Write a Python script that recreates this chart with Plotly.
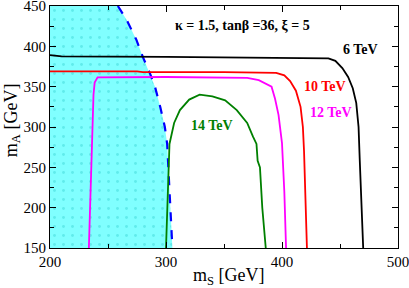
import plotly.graph_objects as go

# data (GeV)
black_x = [200, 205, 210, 300, 400, 440, 446, 452, 457, 461, 464, 466, 467, 468, 469, 470]
black_y = [389, 388, 387.5, 387, 386, 385, 382, 373, 362, 348, 330, 300, 260, 220, 180, 150]

red_x = [200, 275, 280, 350, 395, 402, 407, 412, 416, 418, 419, 420, 421, 421.5]
red_y = [369, 369, 368, 368, 367, 364, 357, 345, 325, 300, 270, 230, 190, 150]

mag_x = [233.5, 234.5, 235.5, 236.5, 237.5, 238.5, 241, 300, 370, 380, 391, 394, 397, 400, 402, 403.5]
mag_y = [150, 200, 250, 300, 340, 355, 361.5, 362, 361, 358, 350, 335, 315, 280, 220, 150]

green_x = [300, 301.5, 303, 307, 312, 320, 329, 340, 351, 361, 370, 375, 378, 379, 381, 383, 386]
green_y = [150, 215, 279, 305, 321, 334, 340, 338, 333, 321, 305, 288, 279, 258, 250, 200, 150]

blue_x = [258.5, 266, 274.5, 280, 286, 290.5, 295, 299, 301, 302.5, 304, 305.5]
blue_y = [450, 433, 408, 387, 367, 350, 325, 300, 279, 240, 200, 150]

labels = ["6 TeV", "10 TeV", "12 TeV", "14 TeV"]
label_x = [468, 437, 442, 340]
label_y = [396, 350, 318, 302]
label_col = ["black", "#ff0000", "#ff00ff", "#008000"]

title_text = "κ = 1.5, tanβ =36, ξ = 5"
x_title = "m<sub>S</sub> [GeV]"
y_title = "m<sub>A</sub> [GeV]"

fig = go.Figure()

# excluded region (cyan) left of blue boundary
fx = [200] + blue_x + [200]
fy = [450] + blue_y + [150]
fig.add_trace(go.Scatter(x=fx, y=fy, mode="lines", line=dict(width=0),
                         fill="toself", fillcolor="#80ffff",
                         fillpattern=dict(shape=".", fgcolor="#40d8d8", bgcolor="#80ffff",
                                          size=9, solidity=0.08),
                         hoverinfo="skip", showlegend=False))
fig.add_trace(go.Scatter(x=blue_x, y=blue_y, mode="lines",
                         line=dict(color="#0000ff", width=2.2, dash="dash"), showlegend=False))
fig.add_trace(go.Scatter(x=black_x, y=black_y, mode="lines", line=dict(color="black", width=1.8), showlegend=False))
fig.add_trace(go.Scatter(x=red_x, y=red_y, mode="lines", line=dict(color="#ff0000", width=1.8), showlegend=False))
fig.add_trace(go.Scatter(x=mag_x, y=mag_y, mode="lines", line=dict(color="#ff00ff", width=1.8), showlegend=False))
fig.add_trace(go.Scatter(x=green_x, y=green_y, mode="lines", line=dict(color="#008000", width=1.8), showlegend=False))

for t, x, y, c in zip(labels, label_x, label_y, label_col):
    fig.add_annotation(x=x, y=y, text="<b>%s</b>" % t, showarrow=False,
                       font=dict(family="Liberation Serif", size=14, color=c))
fig.add_annotation(x=366, y=426, text="<b>%s</b>" % title_text, showarrow=False,
                   font=dict(family="Liberation Serif", size=14, color="black"))

# axis titles
fig.add_annotation(xref="paper", yref="paper", x=0.514, y=-0.118, text=x_title,
                   showarrow=False, xanchor="center", yanchor="middle",
                   font=dict(family="Liberation Serif", size=18, color="black"))
fig.add_annotation(xref="paper", yref="paper", x=-0.108, y=0.53, text=y_title,
                   showarrow=False, xanchor="center", yanchor="middle", textangle=-90,
                   font=dict(family="Liberation Serif", size=18, color="black"))

axis_common = dict(ticks="inside", ticklen=6, tickwidth=1, tickcolor="black",
                   showline=True, linecolor="black", linewidth=1.2, mirror="allticks",
                   showgrid=False, zeroline=False, automargin=False,
                   ticklabeloverflow="allow", ticklabelstandoff=0,
                   tickfont=dict(family="Liberation Serif", size=15, color="black"))
fig.update_xaxes(range=[200, 500], dtick=100,
                 minor=dict(ticks="inside", dtick=50, ticklen=4, tickcolor="black"),
                 **axis_common)
fig.update_yaxes(range=[150, 450], dtick=50,
                 minor=dict(ticks="inside", dtick=25, ticklen=4, tickcolor="black"),
                 **axis_common)
fig.update_layout(width=409, height=288, margin=dict(l=50, r=11, t=6, b=40),
                  plot_bgcolor="white", paper_bgcolor="white")
fig.write_html("out.html", config={"displayModeBar": False},
               post_script="document.body.style.margin='0';document.body.style.overflow='hidden';")
